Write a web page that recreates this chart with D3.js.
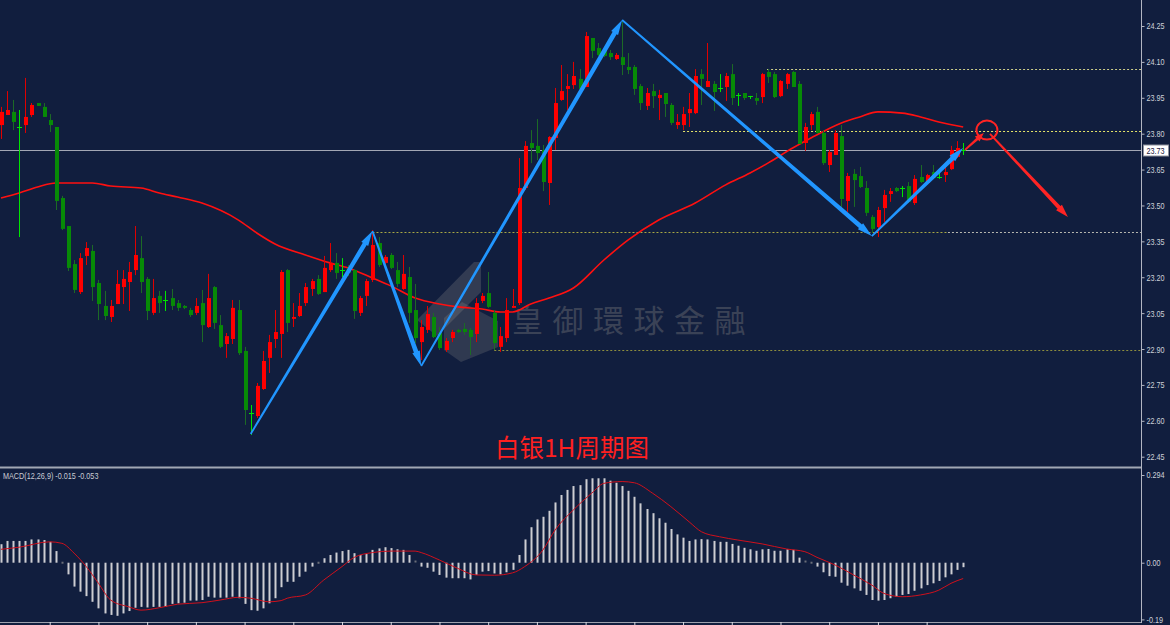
<!DOCTYPE html>
<html>
<head>
<meta charset="utf-8">
<script src="https://cdn.jsdelivr.net/npm/d3@7"></script>
<style>
  html, body { margin: 0; padding: 0; background: #111e3e; }
  svg { display: block; }
</style>
</head>
<body>
<svg width="1170" height="625"></svg>
<script>
// candles, one per hour
const opens = [
  23.836, 23.878, 23.891, 23.828, 23.836, 23.878, 23.928, 23.912, 23.857, 23.828,
  23.531, 23.414, 23.255, 23.138, 23.289, 23.310, 23.176, 23.080, 23.034, 23.088,
  23.159, 23.180, 23.230, 23.280, 23.193, 23.051, 23.122, 23.105, 23.113, 23.092,
  23.080, 23.063, 23.051, 23.092, 22.992, 23.159, 23.000, 22.921, 22.942, 23.063,
  22.892, 22.633, 22.620, 22.733, 22.863, 22.942, 22.963, 23.230, 23.026, 23.038,
  23.092, 23.151, 23.193, 23.138, 23.230, 23.260, 23.232, 23.239, 23.230, 23.051,
  23.122, 23.189, 23.343, 23.260, 23.293, 23.230, 23.151, 23.201, 23.063, 22.929,
  22.980, 23.034, 22.967, 22.896, 22.946, 22.980, 22.984, 22.980, 22.963, 23.101,
  23.134, 23.051, 22.909, 22.946, 23.072, 23.092, 23.573, 23.761, 23.749, 23.732,
  23.594, 23.782, 23.941, 23.987, 24.003, 24.029, 23.995, 24.200, 24.158, 24.150,
  24.137, 24.112, 24.120, 24.079, 24.079, 23.999, 23.916, 23.978, 23.949, 23.970,
  23.920, 23.836, 23.836, 23.886, 23.886, 24.049, 23.995, 24.008, 23.989, 23.995,
  24.049, 23.963, 23.970, 23.958, 23.949, 23.953, 24.058, 24.049, 23.957, 24.008,
  24.058, 24.008, 23.761, 23.836, 23.891, 23.803, 23.669, 23.711, 23.790, 23.519,
  23.632, 23.623, 23.573, 23.452, 23.410, 23.489, 23.548, 23.573, 23.574, 23.581,
  23.510, 23.619, 23.594, 23.640, 23.620, 23.627, 23.652, 23.703, 23.733
];
const highs = [
  23.912, 23.978, 23.941, 23.899, 24.033, 23.928, 23.928, 23.928, 23.882, 23.828,
  23.540, 23.414, 23.272, 23.301, 23.347, 23.335, 23.189, 23.143, 23.105, 23.230,
  23.230, 23.264, 23.414, 23.372, 23.201, 23.193, 23.143, 23.143, 23.151, 23.105,
  23.084, 23.072, 23.113, 23.147, 23.214, 23.163, 23.042, 22.967, 23.105, 23.105,
  22.909, 22.666, 22.758, 22.892, 22.959, 23.063, 23.230, 23.234, 23.092, 23.134,
  23.176, 23.193, 23.209, 23.289, 23.343, 23.301, 23.280, 23.251, 23.234, 23.122,
  23.193, 23.397, 23.368, 23.293, 23.301, 23.264, 23.293, 23.243, 23.172, 23.021,
  23.080, 23.051, 22.992, 22.946, 22.980, 22.984, 23.009, 22.988, 23.113, 23.134,
  23.222, 23.063, 22.992, 23.113, 23.151, 23.698, 23.769, 23.815, 23.861, 23.753,
  23.790, 23.991, 24.087, 24.049, 24.100, 24.070, 24.225, 24.200, 24.179, 24.160,
  24.150, 24.137, 24.275, 24.137, 24.087, 24.008, 23.991, 24.008, 23.983, 23.970,
  23.928, 23.882, 23.912, 23.970, 24.070, 24.070, 24.179, 24.020, 24.049, 24.054,
  24.091, 23.970, 23.970, 23.958, 23.970, 24.054, 24.070, 24.058, 24.024, 24.054,
  24.062, 24.020, 23.845, 23.891, 23.912, 23.815, 23.732, 23.815, 23.836, 23.636,
  23.652, 23.661, 23.602, 23.460, 23.494, 23.565, 23.573, 23.577, 23.581, 23.598,
  23.627, 23.669, 23.632, 23.669, 23.636, 23.661, 23.749, 23.769, 23.761
];
const lows = [
  23.778, 23.878, 23.815, 23.368, 23.803, 23.870, 23.916, 23.870, 23.807, 23.481,
  23.397, 23.226, 23.134, 23.130, 23.251, 23.101, 23.021, 23.021, 23.013, 23.088,
  23.088, 23.059, 23.209, 23.134, 23.021, 23.042, 23.051, 23.059, 23.063, 23.059,
  23.067, 23.034, 23.042, 22.929, 22.988, 22.984, 22.904, 22.863, 22.921, 22.875,
  22.583, 22.541, 22.612, 22.729, 22.800, 22.904, 22.863, 22.971, 22.992, 23.034,
  23.080, 23.122, 23.126, 23.138, 23.222, 23.193, 23.201, 23.205, 23.026, 23.038,
  23.080, 23.180, 23.243, 23.255, 23.234, 23.159, 23.147, 23.009, 22.925, 22.854,
  22.967, 22.946, 22.896, 22.888, 22.929, 22.967, 22.959, 22.875, 22.929, 23.092,
  23.072, 22.896, 22.888, 22.929, 23.072, 23.084, 23.565, 23.677, 23.690, 23.560,
  23.502, 23.732, 23.937, 23.899, 23.987, 23.983, 23.995, 24.116, 24.125, 24.120,
  24.108, 24.108, 24.045, 24.049, 23.962, 23.899, 23.899, 23.907, 23.857, 23.870,
  23.836, 23.820, 23.815, 23.828, 23.882, 23.920, 23.995, 23.895, 23.974, 23.937,
  23.920, 23.916, 23.941, 23.945, 23.920, 23.928, 24.012, 23.949, 23.953, 23.987,
  23.995, 23.757, 23.728, 23.815, 23.799, 23.669, 23.640, 23.711, 23.494, 23.473,
  23.494, 23.573, 23.456, 23.385, 23.368, 23.431, 23.515, 23.556, 23.535, 23.510,
  23.502, 23.594, 23.590, 23.611, 23.611, 23.598, 23.648, 23.698, 23.711
];
const closes = [
  23.891, 23.899, 23.849, 23.824, 23.870, 23.920, 23.916, 23.870, 23.836, 23.519,
  23.402, 23.239, 23.147, 23.280, 23.322, 23.159, 23.088, 23.038, 23.080, 23.172,
  23.193, 23.222, 23.293, 23.180, 23.059, 23.113, 23.092, 23.103, 23.080, 23.072,
  23.072, 23.042, 23.080, 23.000, 23.113, 23.009, 22.909, 22.954, 23.072, 22.883,
  22.645, 22.631, 22.746, 22.850, 22.929, 22.971, 23.222, 23.009, 23.034, 23.080,
  23.159, 23.184, 23.130, 23.239, 23.260, 23.218, 23.228, 23.218, 23.059, 23.113,
  23.184, 23.335, 23.251, 23.285, 23.239, 23.172, 23.214, 23.051, 22.946, 22.992,
  23.046, 22.950, 22.904, 22.934, 22.971, 22.971, 22.971, 22.950, 23.092, 23.122,
  23.076, 22.925, 22.954, 23.063, 23.080, 23.573, 23.749, 23.740, 23.719, 23.598,
  23.786, 23.928, 23.978, 23.999, 24.041, 23.987, 24.208, 24.146, 24.129, 24.125,
  24.120, 24.129, 24.087, 24.066, 23.987, 23.928, 23.970, 23.957, 23.962, 23.924,
  23.845, 23.849, 23.882, 23.903, 24.041, 24.029, 24.020, 23.974, 23.985, 24.041,
  23.949, 23.960, 23.949, 23.955, 23.937, 24.049, 24.037, 23.953, 24.020, 24.049,
  23.995, 23.757, 23.828, 23.882, 23.803, 23.677, 23.723, 23.803, 23.527, 23.623,
  23.606, 23.577, 23.469, 23.402, 23.481, 23.544, 23.560, 23.560, 23.572, 23.515,
  23.611, 23.598, 23.627, 23.615, 23.618, 23.640, 23.732, 23.740, 23.730
];

// red moving average, read at some candles
const maIndex = [0, 3, 6, 9, 15, 18, 23, 26, 29, 33, 39, 42, 45, 50, 54, 57, 61, 64, 68, 72,
  75, 79, 82, 84, 87, 90, 94, 99, 103, 108, 114, 119, 123, 126, 130, 133, 138, 141, 144, 148,
  151, 154, 158];
const maValues = [23.531, 23.552, 23.577, 23.594, 23.594, 23.581, 23.573, 23.552, 23.535, 23.510,
  23.439, 23.385, 23.339, 23.293, 23.260, 23.239, 23.197, 23.164, 23.113, 23.088,
  23.076, 23.067, 23.055, 23.055, 23.088, 23.113, 23.155, 23.272, 23.356, 23.439,
  23.510, 23.586, 23.636, 23.678, 23.740, 23.782, 23.845, 23.870, 23.891, 23.886,
  23.870, 23.849, 23.828];

// MACD histogram, one per candle
const macdHist = [
  0.062, 0.073, 0.073, 0.073, 0.073, 0.078, 0.078, 0.076, 0.070, 0.039,
  -0.002, -0.039, -0.080, -0.097, -0.112, -0.131, -0.153, -0.170, -0.175, -0.178,
  -0.170, -0.162, -0.151, -0.148, -0.150, -0.148, -0.148, -0.148, -0.138, -0.136,
  -0.134, -0.127, -0.127, -0.125, -0.114, -0.117, -0.117, -0.117, -0.114, -0.119,
  -0.138, -0.159, -0.161, -0.153, -0.136, -0.119, -0.082, -0.064, -0.064, -0.047,
  -0.030, -0.013, -0.007, 0.015, 0.026, 0.034, 0.039, 0.043, 0.032, 0.026,
  0.029, 0.043, 0.048, 0.052, 0.049, 0.045, 0.043, 0.026, 0.004, -0.013,
  -0.017, -0.030, -0.041, -0.050, -0.052, -0.052, -0.052, -0.056, -0.041, -0.030,
  -0.028, -0.036, -0.039, -0.032, -0.024, 0.026, 0.078, 0.119, 0.145, 0.154,
  0.174, 0.202, 0.227, 0.244, 0.257, 0.260, 0.280, 0.283, 0.283, 0.283,
  0.275, 0.268, 0.257, 0.241, 0.221, 0.199, 0.180, 0.166, 0.149, 0.134,
  0.113, 0.095, 0.084, 0.073, 0.078, 0.079, 0.078, 0.073, 0.070, 0.070,
  0.063, 0.057, 0.050, 0.045, 0.040, 0.045, 0.046, 0.040, 0.040, 0.045,
  0.043, 0.017, 0.004, -0.003, -0.013, -0.032, -0.045, -0.047, -0.067, -0.077,
  -0.086, -0.094, -0.108, -0.125, -0.127, -0.125, -0.119, -0.114, -0.108, -0.105,
  -0.094, -0.086, -0.075, -0.069, -0.061, -0.049, -0.039, -0.024, -0.015
];
// MACD signal line, read at some candles
const signalIndex = [0, 3, 8, 10, 12, 14, 16, 18, 21, 23, 26, 29, 33, 36, 39, 41, 44, 46, 47, 50,
  53, 56, 58, 61, 64, 68, 69, 72, 75, 78, 81, 84, 86, 89, 91, 94, 97, 99, 102, 104,
  107, 110, 113, 115, 118, 121, 125, 129, 132, 134, 137, 140, 143, 145, 148, 151, 154, 156, 158];
const signalValues = [0.045, 0.052, 0.070, 0.065, 0.032, -0.013, -0.069, -0.125, -0.148, -0.159,
  -0.151, -0.139, -0.134, -0.125, -0.116, -0.119, -0.131, -0.127, -0.119, -0.108,
  -0.058, -0.013, 0.018, 0.034, 0.039, 0.039, 0.034, 0.009, -0.019, -0.041,
  -0.042, -0.034, -0.013, 0.043, 0.110, 0.177, 0.233, 0.266, 0.272, 0.268,
  0.233, 0.188, 0.137, 0.104, 0.087, 0.076, 0.063, 0.046, 0.037, 0.018,
  -0.008, -0.041, -0.075, -0.103, -0.114, -0.108, -0.092, -0.069, -0.053];

// axis ticks
const priceTicks = [24.25, 24.10, 23.95, 23.80, 23.65, 23.50, 23.35, 23.20, 23.05, 22.90, 22.75, 22.60, 22.45];
const macdTicks = [0.294, 0, -0.19];
const macdTickLabels = ['0.294', '0.00', '-0.19'];
const lastPrice = 23.73;

// dotted levels: price, from candle, to candle
const levelPrices = [24.070, 23.811, 23.388, 23.388, 22.896];
const levelFrom = [125.8, 112, 61, 155.5, 81];
const levelTo = [187.2, 187.2, 155.5, 187.2, 187.2];

// hand drawn arrows, as [candle, price]
const bluePath = [[41, 22.545], [61, 23.393], [69, 22.829], [102, 24.275], [143, 23.372], [158, 23.740]];
const redArrowA = [[158.3, 23.732], [161.4, 23.803]];
const redArrowB = [[162.4, 23.799], [175.2, 23.452]];
const redCircle = [161.9, 23.815];

const macdText = 'MACD(12,26,9) -0.015 -0.053';
const titleText = '白银1H周期图';
const watermarkText = '皇御環球金融';

const svg = d3.select('svg');
const width = 1170;
const height = 625;
const axisX = 1141;
const mainBottom = 466;
const squeeze = 0.78;   // small labels are narrow in the source

const bg = '#111e3e';
const upColor = '#ff0000';
const upWick = '#e00000';
const downColor = '#078a07';
const downWick = '#1c6a26';
const dojiColor = '#00e600';
const blue = '#2196ff';
const redMark = '#ff2424';
const labelFont = '"Liberation Sans", Arial, sans-serif';

svg.append('rect').attr('width', width).attr('height', height).attr('fill', bg);

const xScale = d3.scaleLinear().domain([0, 187.2]).range([1, axisX]);
const yScale = d3.scaleLinear().domain([22.45, 24.25]).range([456.7, 26]);
const macdScale = d3.scaleLinear().domain([-0.19, 0.294]).range([619.4, 475]);

svg.append('clipPath').attr('id', 'mainClip')
  .append('rect').attr('width', axisX).attr('height', mainBottom);
svg.append('clipPath').attr('id', 'macdClip')
  .append('rect').attr('y', 469).attr('width', axisX).attr('height', 153);

const main = svg.append('g').attr('clip-path', 'url(#mainClip)');

// watermark, behind everything
const wm = main.append('g').attr('class', 'watermark');
wm.append('path')
  .attr('d', 'M417,320 L474,262 L481,262 L481,292 L437,336 Z')
  .attr('fill', '#a8a49c').attr('opacity', 0.22);
wm.append('path')
  .attr('d', 'M444,318 L462,302 L498,321 L498,347 L461,362 L444,350 Z')
  .attr('fill', '#a8a49c').attr('opacity', 0.2);
wm.append('text')
  .text(watermarkText)
  .attr('x', 512).attr('y', 332)
  .attr('font-family', '"Noto Sans CJK TC", "Noto Sans CJK SC", sans-serif')
  .attr('font-size', 31)
  .attr('letter-spacing', 9.5)
  .attr('fill', '#9a968e')
  .attr('opacity', 0.3);

// dotted levels
const levelColors = ['#cfcf8a', '#e4e46a', '#a8a844', '#b8b8b0', '#8e8e3e'];
levelPrices.forEach((p, k) => {
  const yy = Math.round(yScale(p)) + 0.5;
  main.append('line')
    .attr('x1', xScale(levelFrom[k])).attr('x2', xScale(levelTo[k]))
    .attr('y1', yy).attr('y2', yy)
    .attr('stroke', levelColors[k])
    .attr('stroke-width', 1)
    .attr('stroke-dasharray', '2,2');
});

// current price line
const lastY = Math.round(yScale(lastPrice)) + 0.5;
main.append('line')
  .attr('x1', 0).attr('x2', axisX)
  .attr('y1', lastY).attr('y2', lastY)
  .attr('stroke', '#a3a7b4').attr('stroke-width', 1);

// moving average
main.append('path')
  .datum(maIndex.map((d, k) => [d, maValues[k]]))
  .attr('fill', 'none')
  .attr('stroke', '#ff1010')
  .attr('stroke-width', 1.6)
  .attr('d', d3.line().x(d => xScale(d[0])).y(d => yScale(d[1])).curve(d3.curveMonotoneX));

// candles
const candles = opens.map((o, i) => ({ i, o, h: highs[i], l: lows[i], c: closes[i] }));
const candleG = main.append('g').attr('class', 'candles');
candles.forEach(d => {
  const px = Math.round(xScale(d.i));
  const doji = Math.abs(d.c - d.o) < 0.0045;
  const up = d.c > d.o;
  const wickColor = doji ? dojiColor : (up ? upWick : downWick);
  candleG.append('rect')
    .attr('x', px).attr('width', 1)
    .attr('y', yScale(d.h)).attr('height', yScale(d.l) - yScale(d.h))
    .attr('fill', wickColor);
  if (doji) {
    const yy = Math.round(yScale(d.o));
    candleG.append('rect')
      .attr('x', px - 2).attr('width', 5)
      .attr('y', yy).attr('height', 1)
      .attr('fill', dojiColor);
  } else {
    const top = yScale(Math.max(d.o, d.c));
    const bot = yScale(Math.min(d.o, d.c));
    candleG.append('rect')
      .attr('x', px - 1).attr('width', 4)
      .attr('y', top).attr('height', Math.max(1, bot - top))
      .attr('fill', up ? upColor : downColor);
  }
});

// tapered arrow shape
const arrowShape = (p0, p1, w0, w1, headLen, headW) => {
  const dx = p1[0] - p0[0], dy = p1[1] - p0[1];
  const len = Math.hypot(dx, dy);
  const ux = dx / len, uy = dy / len;
  const nx = -uy, ny = ux;
  const bx = p1[0] - ux * headLen, by = p1[1] - uy * headLen;
  const pts = [
    [p0[0] + nx * w0 / 2, p0[1] + ny * w0 / 2],
    [bx + nx * w1 / 2, by + ny * w1 / 2],
    [bx + nx * headW / 2, by + ny * headW / 2],
    p1,
    [bx - nx * headW / 2, by - ny * headW / 2],
    [bx - nx * w1 / 2, by - ny * w1 / 2],
    [p0[0] - nx * w0 / 2, p0[1] - ny * w0 / 2]
  ];
  return d3.line()(pts) + 'Z';
};
const toPx = d => [xScale(d[0]), yScale(d[1])];

const arrowsG = svg.append('g').attr('class', 'arrows');
d3.pairs(bluePath).forEach(([a, b]) => {
  arrowsG.append('path')
    .attr('d', arrowShape(toPx(a), toPx(b), 1.8, 4.6, 15, 8))
    .attr('fill', blue);
});

arrowsG.append('path')
  .attr('d', arrowShape(toPx(redArrowA[0]), toPx(redArrowA[1]), 1.8, 2.8, 9, 7))
  .attr('fill', redMark);
arrowsG.append('path')
  .attr('d', arrowShape(toPx(redArrowB[0]), toPx(redArrowB[1]), 1.8, 4, 13, 8))
  .attr('fill', redMark);
arrowsG.append('ellipse')
  .attr('cx', xScale(redCircle[0])).attr('cy', yScale(redCircle[1]))
  .attr('rx', 10.5).attr('ry', 9.5)
  .attr('fill', 'none').attr('stroke', redMark).attr('stroke-width', 2);

// title
svg.append('text')
  .text(titleText)
  .attr('x', 495).attr('y', 457)
  .attr('font-family', '"Noto Sans CJK SC", sans-serif')
  .attr('font-size', 24.5)
  .attr('fill', '#ff2020');

// MACD panel
const macd = svg.append('g').attr('clip-path', 'url(#macdClip)');
const zeroY = macdScale(0);
macdHist.forEach((v, i) => {
  const px = Math.round(xScale(i));
  const yv = macdScale(v);
  const h = Math.abs(yv - zeroY);
  const tiny = h < 2.5;
  macd.append('rect')
    .attr('x', px - 0.5).attr('width', 2)
    .attr('y', Math.min(yv, zeroY) - (tiny ? 1 : 0))
    .attr('height', Math.max(h, tiny ? 2 : h))
    .attr('fill', tiny ? '#6a6e78' : '#cdcdd2');
});
macd.append('path')
  .datum(signalIndex.map((d, k) => [d, signalValues[k]]))
  .attr('fill', 'none')
  .attr('stroke', '#d0101c')
  .attr('stroke-width', 1)
  .attr('d', d3.line().x(d => xScale(d[0])).y(d => macdScale(d[1])).curve(d3.curveMonotoneX));

svg.append('text')
  .text(macdText)
  .attr('transform', `translate(3,478.5) scale(${squeeze},1)`)
  .attr('font-family', labelFont)
  .attr('font-size', 9.3)
  .attr('fill', '#c9ccd4');

// frame lines
svg.append('rect').attr('x', 0).attr('y', 466.5).attr('width', axisX + 1).attr('height', 2).attr('fill', '#a2a7b4');
svg.append('line')
  .attr('x1', axisX + 0.5).attr('x2', axisX + 0.5).attr('y1', 0).attr('y2', 623)
  .attr('stroke', '#b2b6c2');

// right axes
const styleAxis = g => {
  g.select('.domain').remove();
  g.selectAll('.tick line').attr('stroke', '#b2b6c2');
  g.selectAll('.tick text')
    .attr('x', 5 / squeeze)
    .attr('transform', `scale(${squeeze},1)`)
    .attr('fill', '#cdd0d8')
    .attr('font-family', labelFont)
    .attr('font-size', 9.3);
};

svg.append('g')
  .attr('transform', `translate(${axisX + 0.5},0)`)
  .call(d3.axisRight(yScale).tickValues(priceTicks).tickSize(3).tickFormat(d3.format('.2f')))
  .call(styleAxis);

svg.append('g')
  .attr('transform', `translate(${axisX + 0.5},0)`)
  .call(d3.axisRight(macdScale).tickValues(macdTicks).tickSize(3)
    .tickFormat((d, k) => macdTickLabels[k]))
  .call(styleAxis);

// last price tag
const tag = svg.append('g').attr('transform', `translate(${axisX + 1},${lastY})`);
tag.append('rect')
  .attr('x', 1.5).attr('y', -5.5).attr('width', 25).attr('height', 11)
  .attr('fill', '#ffffff').attr('stroke', '#8c909c');
tag.append('text')
  .text(d3.format('.2f')(lastPrice))
  .attr('transform', `scale(${squeeze},1)`)
  .attr('x', 4.5 / squeeze).attr('y', 3.4)
  .attr('font-family', labelFont)
  .attr('font-size', 9.3)
  .attr('fill', '#1a2040');

// time axis at the bottom
svg.append('line')
  .attr('x1', 0).attr('x2', axisX).attr('y1', 622.5).attr('y2', 622.5)
  .attr('stroke', '#9ea2ae');
const timeAxis = svg.append('g')
  .attr('transform', 'translate(0,622)')
  .call(d3.axisBottom(xScale).tickValues(d3.range(8, 160, 8)).tickSize(3).tickFormat(''));
timeAxis.select('.domain').remove();
timeAxis.selectAll('.tick line').attr('stroke', '#d8dbe2');
</script>
</body>
</html>
